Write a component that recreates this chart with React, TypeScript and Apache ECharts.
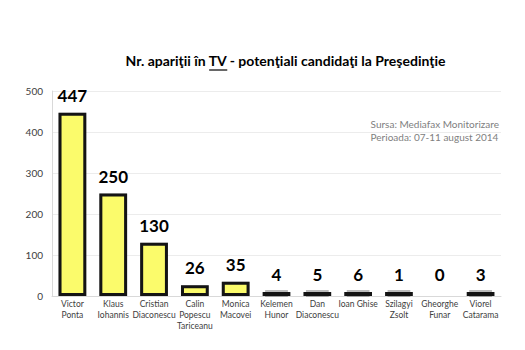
import React, { useEffect, useRef } from "react";
import * as echarts from "echarts";

const categories = [
  "Victor\nPonta",
  "Klaus\nIohannis",
  "Cristian\nDiaconescu",
  "Calin\nPopescu\nTariceanu",
  "Monica\nMacovei",
  "Kelemen\nHunor",
  "Dan\nDiaconescu",
  "Ioan Ghise",
  "Szilagyi\nZsolt",
  "Gheorghe\nFunar",
  "Viorel\nCatarama",
];
const values = [447, 250, 130, 26, 35, 4, 5, 6, 1, 0, 3];
const titleParts = ["Nr. apariţii în ", "TV", " - potenţiali candidaţi la Preşedinţie"];
const sourceLines = ["Sursa: Mediafax Monitorizare", "Perioada: 07-11 august 2014"];

const FONT = "Lato, 'Noto Sans', sans-serif";

export default function App() {
  const ref = useRef<HTMLDivElement>(null);
  useEffect(() => {
    if (!ref.current) return;
    const chart = echarts.init(ref.current, undefined, { renderer: "svg" });

    const titleFont = `bold 14px ${FONT}`;
    const cv = document.createElement("canvas");
    const ctx = cv.getContext("2d")!;
    ctx.font = "bold 14px Lato";
    const w0 = ctx.measureText(titleParts[0]).width;
    const w1 = ctx.measureText(titleParts[1]).width;
    const wAll = ctx.measureText(titleParts.join("")).width;
    const titleCx = 286;
    const titleLeft = titleCx - wAll / 2;
    const titleY = 62;

    const hidden = { borderWidth: 0, color: "rgba(0,0,0,0)" };

    chart.setOption({
      animation: false,
      backgroundColor: "#ffffff",
      grid: { left: 52, right: 24, top: 91, bottom: 54, containLabel: false },
      xAxis: {
        type: "category",
        data: categories,
        axisLine: { show: true, lineStyle: { color: "#d9d9d9", width: 1 } },
        axisTick: { show: false },
        splitLine: { show: false },
        axisLabel: {
          color: "#404040",
          fontSize: 8.5,
          fontFamily: FONT,
          lineHeight: 11,
          margin: 2,
          interval: 0,
        },
      },
      yAxis: {
        type: "value",
        min: 0,
        max: 500,
        interval: 100,
        axisLine: { show: true, lineStyle: { color: "#d9d9d9" } },
        axisTick: { show: false },
        splitLine: { show: true, lineStyle: { color: "#ececec" } },
        axisLabel: { color: "#404040", fontSize: 10, fontFamily: FONT, margin: 9 },
      },
      series: [
        {
          type: "bar",
          barCategoryGap: "32%",
          barMinHeight: 5,
          silent: true,
          clip: false,
          z: 1,
          data: values.map((v) => ({
            value: v,
            itemStyle: v === 0 ? hidden : undefined,
          })),
          itemStyle: {
            color: "rgba(0,0,0,0)",
            borderColor: "rgba(60,60,60,0.35)",
            borderWidth: 7,
          },
        },
        {
          type: "bar",
          barGap: "-100%",
          barCategoryGap: "32%",
          barMinHeight: 4,
          clip: false,
          z: 2,
          data: values.map((v) => ({
            value: v,
            itemStyle: v === 0 ? hidden : undefined,
          })),
          itemStyle: {
            color: "#fbfb6b",
            borderColor: "#141414",
            borderWidth: 3,
          },
          label: {
            show: true,
            position: "top",
            distance: 9,
            color: "#000000",
            fontSize: 17,
            fontWeight: "bold",
            fontFamily: FONT,
          },
        },
      ],
      graphic: [
        {
          type: "text",
          left: titleLeft,
          top: titleY - 9,
          style: {
            text: titleParts.join(""),
            font: titleFont,
            fill: "#000000",
          },
        },
        {
          type: "line",
          shape: {
            x1: titleLeft + w0,
            y1: titleY + 8,
            x2: titleLeft + w0 + w1,
            y2: titleY + 8,
          },
          style: { stroke: "#000000", lineWidth: 1.2 },
        },
        {
          type: "text",
          right: 26,
          top: 117,
          style: {
            text: sourceLines.join("\n"),
            font: `10px ${FONT}`,
            fill: "#808080",
            align: "right",
            lineHeight: 13,
          },
        },
      ],
    });
    return () => chart.dispose();
  }, []);
  return (
    <div
      ref={ref}
      style={{ width: 525, height: 350, position: "fixed", left: 0, top: 0 }}
    />
  );
}
